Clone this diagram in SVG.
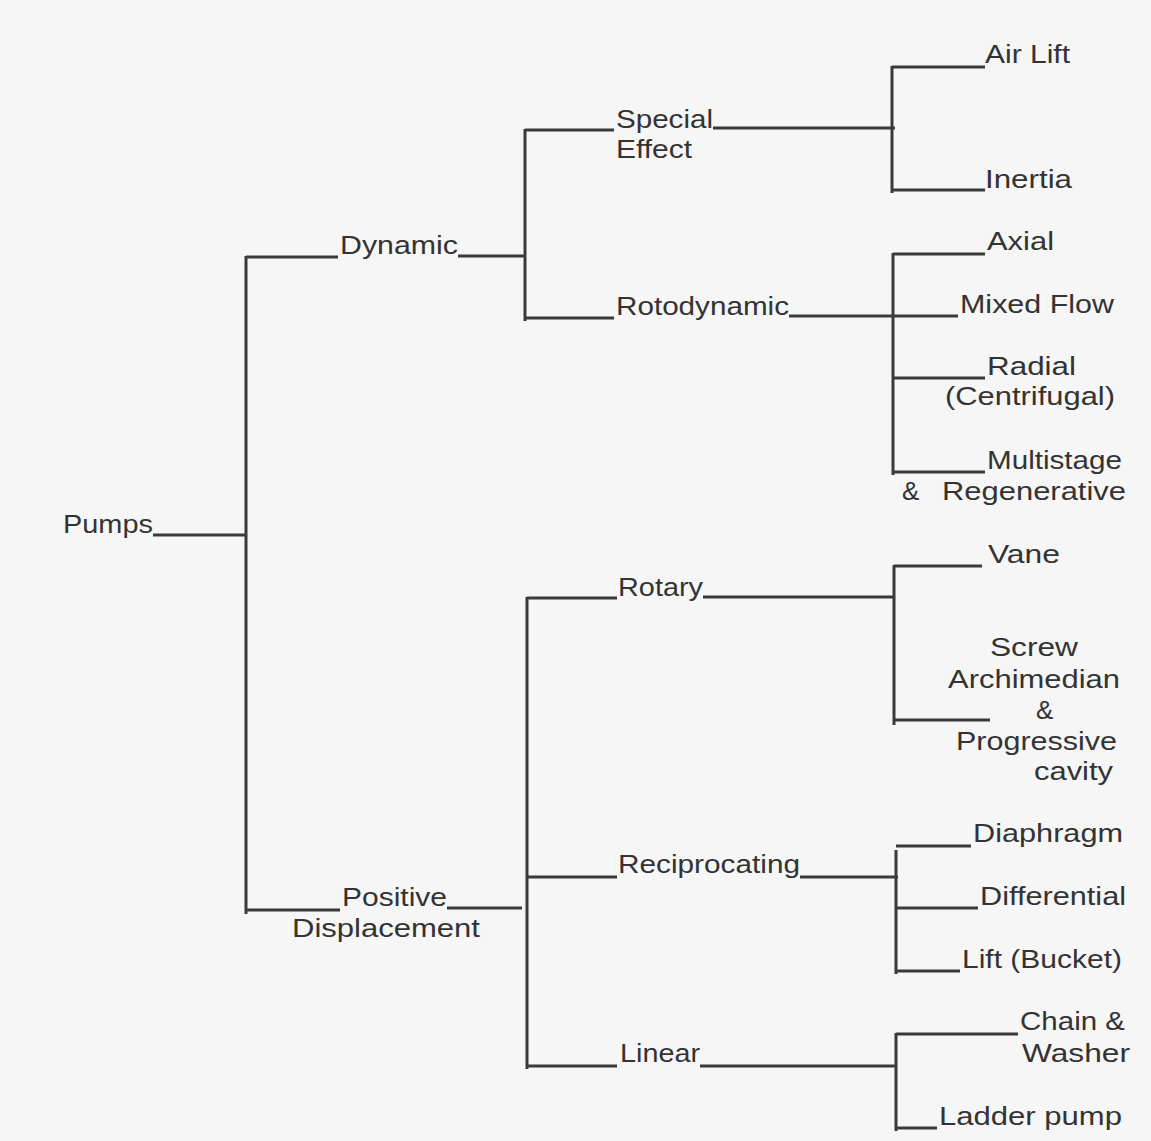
<svg xmlns="http://www.w3.org/2000/svg" width="1151" height="1141" viewBox="0 0 1151 1141">
<style>
text{font-family:"Liberation Sans",Arial,sans-serif;font-size:26px;fill:#333;}
.c line{stroke:#3a3a3a;stroke-width:3;stroke-linecap:butt;}
</style>
<rect x="0" y="0" width="1151" height="1141" fill="#f6f6f6"/>
<g class="c" id="connectors">
<line x1="153" y1="535" x2="247" y2="535"/>
<line x1="246" y1="256" x2="246" y2="914"/>
<line x1="246" y1="257" x2="338" y2="257"/>
<line x1="458" y1="256" x2="526" y2="256"/>
<line x1="246" y1="910" x2="340" y2="910"/>
<line x1="447" y1="908" x2="522" y2="908"/>
<line x1="525" y1="129" x2="525" y2="321"/>
<line x1="525" y1="130" x2="614" y2="130"/>
<line x1="713" y1="128" x2="895" y2="128"/>
<line x1="525" y1="318" x2="614" y2="318"/>
<line x1="789" y1="316" x2="958" y2="316"/>
<line x1="892" y1="66" x2="892" y2="193"/>
<line x1="892" y1="67" x2="985" y2="67"/>
<line x1="892" y1="190" x2="985" y2="190"/>
<line x1="893" y1="253" x2="893" y2="475"/>
<line x1="893" y1="254" x2="985" y2="254"/>
<line x1="893" y1="378" x2="985" y2="378"/>
<line x1="893" y1="472" x2="985" y2="472"/>
<line x1="527" y1="597" x2="527" y2="1069"/>
<line x1="527" y1="598" x2="617" y2="598"/>
<line x1="703" y1="597" x2="894" y2="597"/>
<line x1="894" y1="565" x2="894" y2="725"/>
<line x1="894" y1="566" x2="982" y2="566"/>
<line x1="894" y1="720" x2="990" y2="720"/>
<line x1="527" y1="877" x2="617" y2="877"/>
<line x1="800" y1="877" x2="898" y2="877"/>
<line x1="896" y1="850" x2="896" y2="974"/>
<line x1="896" y1="846" x2="971" y2="846"/>
<line x1="896" y1="908" x2="978" y2="908"/>
<line x1="896" y1="971" x2="960" y2="971"/>
<line x1="527" y1="1066" x2="617" y2="1066"/>
<line x1="700" y1="1066" x2="896" y2="1066"/>
<line x1="896" y1="1033" x2="896" y2="1131"/>
<line x1="896" y1="1034" x2="1018" y2="1034"/>
<line x1="896" y1="1128" x2="937" y2="1128"/>
</g>
<g id="pumps"><text x="63" y="533" textLength="90" lengthAdjust="spacingAndGlyphs">Pumps</text></g>
<g id="dynamic"><text x="340" y="254" textLength="118" lengthAdjust="spacingAndGlyphs">Dynamic</text></g>
<g id="positive-displacement"><text x="342" y="906" textLength="105" lengthAdjust="spacingAndGlyphs">Positive</text><text x="292" y="937" textLength="188" lengthAdjust="spacingAndGlyphs">Displacement</text></g>
<g id="special-effect"><text x="616" y="128" textLength="97" lengthAdjust="spacingAndGlyphs">Special</text><text x="616" y="158" textLength="76" lengthAdjust="spacingAndGlyphs">Effect</text></g>
<g id="rotodynamic"><text x="616" y="315" textLength="173" lengthAdjust="spacingAndGlyphs">Rotodynamic</text></g>
<g id="air-lift"><text x="985" y="63" textLength="85" lengthAdjust="spacingAndGlyphs">Air Lift</text></g>
<g id="inertia"><text x="985" y="188" textLength="87" lengthAdjust="spacingAndGlyphs">Inertia</text></g>
<g id="axial"><text x="987" y="250" textLength="67" lengthAdjust="spacingAndGlyphs">Axial</text></g>
<g id="mixed-flow"><text x="960" y="313" textLength="154" lengthAdjust="spacingAndGlyphs">Mixed Flow</text></g>
<g id="radial"><text x="987" y="375" textLength="89" lengthAdjust="spacingAndGlyphs">Radial</text><text x="945" y="405" textLength="170" lengthAdjust="spacingAndGlyphs">(Centrifugal)</text></g>
<g id="multistage"><text x="987" y="469" textLength="135" lengthAdjust="spacingAndGlyphs">Multistage</text><text x="902" y="500">&amp; <tspan x="942" textLength="184" lengthAdjust="spacingAndGlyphs">Regenerative</tspan></text></g>
<g id="rotary"><text x="618" y="596" textLength="85" lengthAdjust="spacingAndGlyphs">Rotary</text></g>
<g id="vane"><text x="988" y="563" textLength="72" lengthAdjust="spacingAndGlyphs">Vane</text></g>
<g id="screw"><text x="990" y="656" textLength="88" lengthAdjust="spacingAndGlyphs">Screw</text><text x="948" y="688" textLength="172" lengthAdjust="spacingAndGlyphs">Archimedian</text><text x="1036" y="719">&amp;</text><text x="956" y="750" textLength="161" lengthAdjust="spacingAndGlyphs">Progressive</text><text x="1034" y="780" textLength="79" lengthAdjust="spacingAndGlyphs">cavity</text></g>
<g id="reciprocating"><text x="618" y="873" textLength="182" lengthAdjust="spacingAndGlyphs">Reciprocating</text></g>
<g id="diaphragm"><text x="973" y="842" textLength="150" lengthAdjust="spacingAndGlyphs">Diaphragm</text></g>
<g id="differential"><text x="980" y="905" textLength="146" lengthAdjust="spacingAndGlyphs">Differential</text></g>
<g id="lift-bucket"><text x="962" y="968" textLength="160" lengthAdjust="spacingAndGlyphs">Lift (Bucket)</text></g>
<g id="linear"><text x="620" y="1062" textLength="80" lengthAdjust="spacingAndGlyphs">Linear</text></g>
<g id="chain-washer"><text x="1020" y="1030" textLength="105" lengthAdjust="spacingAndGlyphs">Chain &amp;</text><text x="1022" y="1062" textLength="108" lengthAdjust="spacingAndGlyphs">Washer</text></g>
<g id="ladder-pump"><text x="939" y="1125" textLength="183" lengthAdjust="spacingAndGlyphs">Ladder pump</text></g>
</svg>
